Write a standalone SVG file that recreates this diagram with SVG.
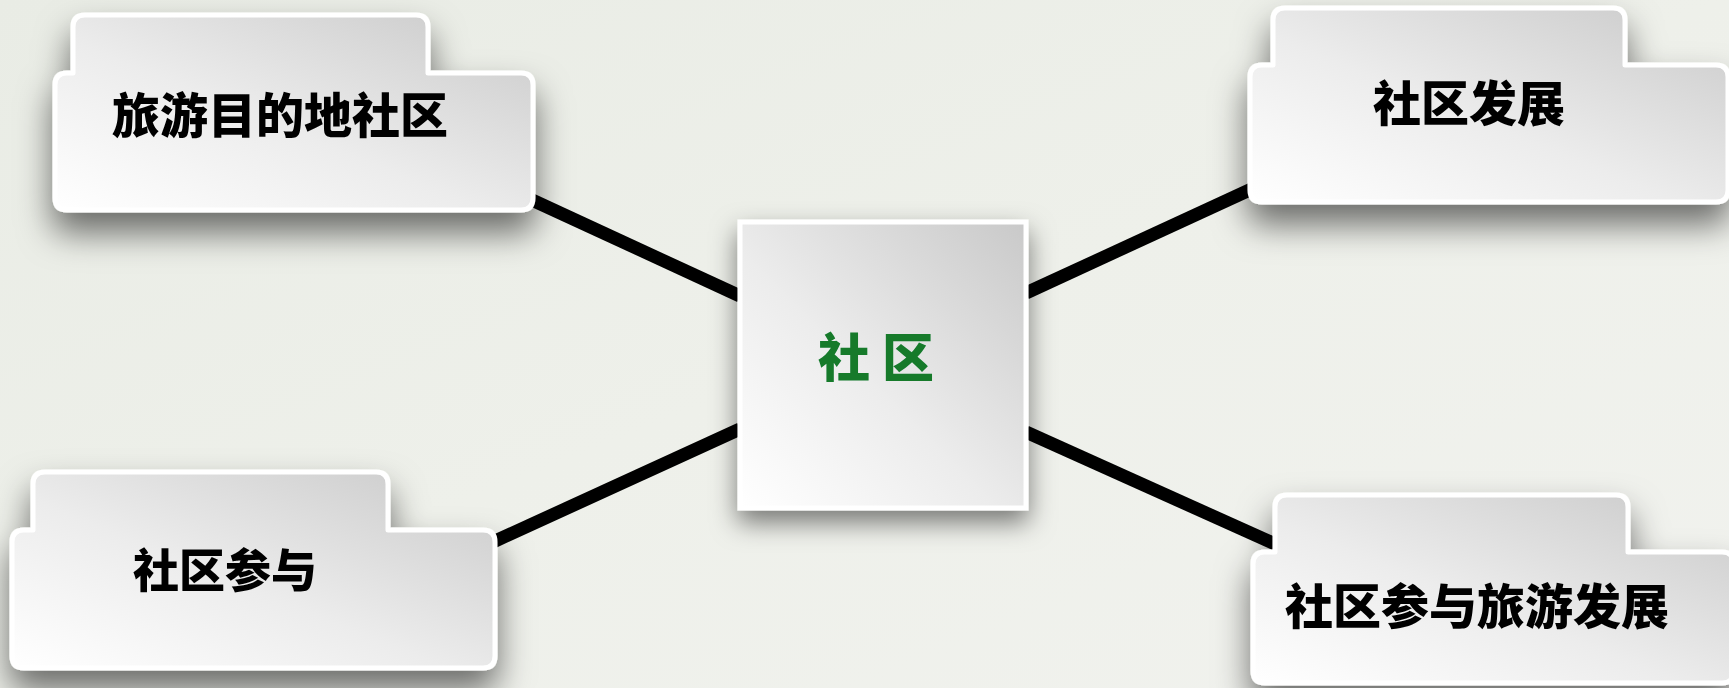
<svg xmlns="http://www.w3.org/2000/svg" width="1729" height="688" viewBox="0 0 1729 688">
<defs>
<linearGradient id="bg" x1="0" y1="0" x2="1" y2="1">
<stop offset="0" stop-color="#e9ece5"/>
<stop offset="0.5" stop-color="#eef0ea"/>
<stop offset="1" stop-color="#f1f2ee"/>
</linearGradient>
<linearGradient id="fill" x1="0" y1="1" x2="1" y2="0">
<stop offset="0" stop-color="#ffffff"/>
<stop offset="0.45" stop-color="#ececec"/>
<stop offset="1" stop-color="#c9c9c9"/>
</linearGradient>
<filter id="sh" x="-15%" y="-15%" width="130%" height="170%">
<feDropShadow dx="0" dy="20" stdDeviation="17" flood-color="#000" flood-opacity="0.55"/>
</filter>
<filter id="shc" x="-25%" y="-25%" width="150%" height="160%">
<feDropShadow dx="0" dy="12" stdDeviation="13" flood-color="#000" flood-opacity="0.5"/>
</filter>
</defs>
<style>
.card{fill:url(#fill);stroke:#ffffff;stroke-width:5;stroke-linejoin:round}
.lbl{font-family:"Noto Sans CJK SC","Noto Sans",sans-serif;font-weight:900;fill:#000;text-anchor:middle}
.conn{stroke:#000;stroke-width:13;stroke-linecap:butt;fill:none}
</style>
<rect x="0" y="0" width="1729" height="688" fill="url(#bg)"/>
<g id="connectors">
<line class="conn" x1="532" y1="200" x2="740" y2="296"/>
<line class="conn" x1="1026" y1="293" x2="1256" y2="187"/>
<line class="conn" x1="493" y1="542" x2="740" y2="429"/>
<line class="conn" x1="1026" y1="432" x2="1275" y2="544"/>
</g>
<g id="node-tl" filter="url(#sh)">
<path class="card" d="M85,15 H416 Q428,15 428,27 V73 H521 Q533,73 533,85 V198 Q533,210 521,210 H67 Q55,210 55,198 V85 Q55,73 67,73 H73 V27 Q73,15 85,15 Z"/>
<text class="lbl" x="280" y="133" font-size="48">旅游目的地社区</text>
</g>
<g id="node-tr" filter="url(#sh)">
<path class="card" d="M1285,8 H1613 Q1625,8 1625,20 V65 H1716 Q1728,65 1728,77 V190 Q1728,202 1716,202 H1262 Q1250,202 1250,190 V77 Q1250,65 1262,65 H1273 V20 Q1273,8 1285,8 Z"/>
<text class="lbl" x="1469" y="121" font-size="48">社区发展</text>
</g>
<g id="node-bl" filter="url(#sh)">
<path class="card" d="M45,472 H376 Q388,472 388,484 V530 H483 Q495,530 495,542 V656 Q495,668 483,668 H24 Q12,668 12,656 V542 Q12,530 24,530 H33 V484 Q33,472 45,472 Z"/>
<text class="lbl" x="225" y="587" font-size="46">社区参与</text>
</g>
<g id="node-br" filter="url(#sh)">
<path class="card" d="M1287,495 H1616 Q1628,495 1628,507 V552 H1722 Q1734,552 1734,564 V671 Q1734,683 1722,683 H1265 Q1253,683 1253,671 V564 Q1253,552 1265,552 H1275 V507 Q1275,495 1287,495 Z"/>
<text class="lbl" x="1477" y="624" font-size="48">社区参与旅游发展</text>
</g>
<g id="node-center" filter="url(#shc)">
<rect x="740" y="222" width="286" height="286" fill="url(#fill)" stroke="#ffffff" stroke-width="5"/>
<text x="818" y="377" font-size="52" letter-spacing="12" font-family="'Noto Sans CJK SC','Noto Sans',sans-serif" font-weight="900" fill="#127a2c">社区</text>
</g>
</svg>
